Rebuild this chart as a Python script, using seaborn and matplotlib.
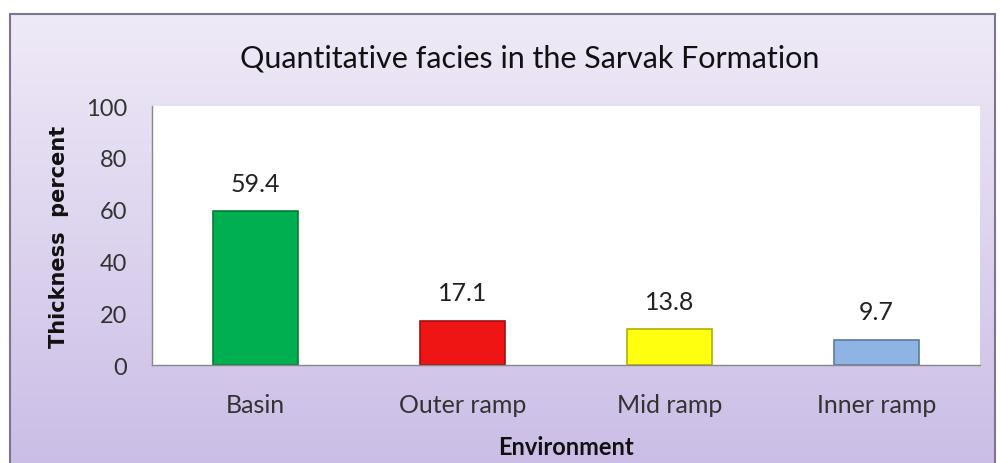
import numpy as np
import pandas as pd
import matplotlib.pyplot as plt
import seaborn as sns
from matplotlib.patches import Rectangle

# Datos
ambientes = ["Basin", "Outer ramp", "Mid ramp", "Inner ramp"]
espesor_pct = [59.4, 17.1, 13.8, 9.7]
colores = ["#00b050", "#f01515", "#ffff10", "#8db4e2"]
bordes = ["#0a7a3a", "#a01010", "#b0b000", "#5a7aa0"]
ticks_y = [0, 20, 40, 60, 80, 100]

df = pd.DataFrame({"ambiente": ambientes, "espesor": espesor_pct})

sns.set_style("white")
plt.rcParams["font.family"] = ["Lato", "DejaVu Sans"]

fig = plt.figure(figsize=(10, 4.64), dpi=100)

# Fondo lavanda con degradado
ax_bg = fig.add_axes([0, 0, 1, 1], zorder=-1)
grad = np.linspace(0, 1, 256).reshape(-1, 1)
cmap = sns.blend_palette(["#efeaf7", "#cbbde6"], as_cmap=True)
ax_bg.imshow(grad, aspect="auto", cmap=cmap, extent=[0.01, 0.995, -0.01, 0.968])
ax_bg.set_xlim(0, 1)
ax_bg.set_ylim(0, 1)
ax_bg.add_patch(Rectangle((0.01, -0.01), 0.985, 0.978, fill=False,
                          edgecolor="#7d7590", linewidth=1.5))
ax_bg.axis("off")

ax = fig.add_axes([0.152, 0.211, 0.828, 0.558])
ax.set_facecolor("white")
sns.barplot(data=df, x="ambiente", y="espesor", hue="ambiente",
            palette=colores, saturation=1, width=0.41, legend=False, ax=ax)
for barra, borde in zip(ax.patches, bordes):
    barra.set_edgecolor(borde)
    barra.set_linewidth(1.2)

for cont in ax.containers:
    ax.bar_label(cont, fmt="%.1f", padding=12, fontsize=18, color="#222222")

ax.set_ylim(0, 100)
ax.set_yticks(ticks_y)
ax.set_xlim(-0.5, len(ambientes) - 0.5)
ax.set_xticks(range(len(ambientes)))
ax.set_xticks(np.arange(-0.5, len(ambientes)), minor=True)
ax.tick_params(axis="x", which="major", length=0, pad=20, labelsize=18,
               labelcolor="#333333")
ax.tick_params(axis="x", which="minor", length=5, color="#888888", width=1)
ax.tick_params(axis="y", length=7, color="#888888", width=1, labelsize=17,
               pad=11, labelcolor="#333333")

for lado in ["top", "right"]:
    ax.spines[lado].set_visible(False)
for lado in ["left", "bottom"]:
    ax.spines[lado].set_color("#888888")
    ax.spines[lado].set_linewidth(1)

ax.set_xlabel("Environment", fontsize=17, fontweight="bold", labelpad=14,
              color="#111111")
ax.set_ylabel("Thickness  percent", fontsize=15, fontweight="bold",
              labelpad=12, color="#111111", family=["DejaVu Sans"])
fig.text(0.53, 0.875, "Quantitative facies in the Sarvak Formation",
         ha="center", va="center", fontsize=22, color="#111111")

fig.savefig("out.png", dpi=100)
